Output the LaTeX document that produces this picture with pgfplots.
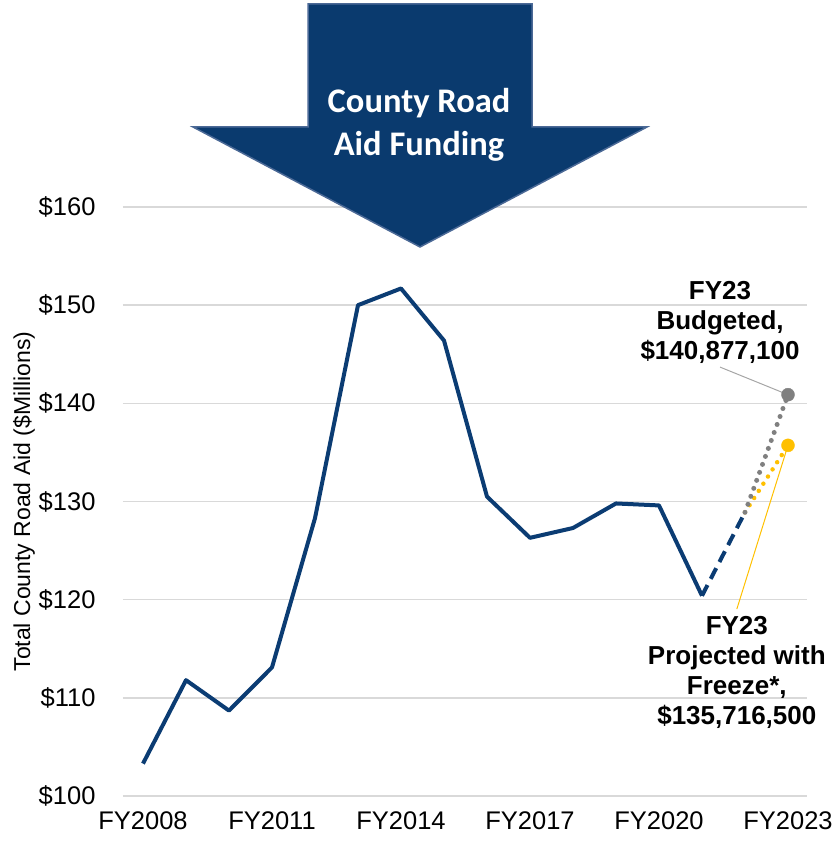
\documentclass[border=0pt]{standalone}
\usepackage{pgfplots}
\pgfplotsset{compat=1.18}
\usepackage{fontspec}
\setmainfont{Liberation Sans}
\newfontfamily\calibri{Carlito}
\definecolor{navy}{RGB}{11,60,115}
\definecolor{arrowfill}{RGB}{10,58,110}
\definecolor{arrowedge}{RGB}{75,105,150}
\definecolor{gridgray}{RGB}{217,217,217}
\definecolor{dotgray}{RGB}{128,128,128}
\definecolor{leadgray}{RGB}{166,166,166}
\definecolor{gold}{RGB}{255,192,0}
\begin{document}
\begin{tikzpicture}
\path[use as bounding box] (-123pt,-45pt) rectangle (711pt,796pt);
\begin{axis}[
  at={(0,0)}, anchor=south west,
  scale only axis, width=684pt, height=589pt,
  xmin=2007.535, xmax=2023.442, ymin=100, ymax=160,
  axis line style={draw=none},
  major tick length=0pt,
  xtick={2008,2011,2014,2017,2020,2023},
  xticklabels={FY2008,FY2011,FY2014,FY2017,FY2020,FY2023},
  ytick={100,110,120,130,140,150,160},
  yticklabels={\$100,\$110,\$120,\$130,\$140,\$150,\$160},
  ymajorgrids, grid style={gridgray, line width=1.5pt},
  tick label style={font=\fontsize{25.5}{30}\selectfont},
  xticklabel style={yshift=-12pt},
  yticklabel style={xshift=-24pt},
  clip=false,
  ylabel={Total County Road Aid (\$Millions)},
  ylabel style={at={(axis description cs:-0.1447,0.5)}, anchor=center, font=\fontsize{23}{28}\selectfont},
]
\addplot[navy, line width=4pt, line join=round] coordinates {
  (2008,103.3) (2009,111.8) (2010,108.7) (2011,113.1) (2012,128.3)
  (2013,150.0) (2014,151.7) (2015,146.4) (2016,130.5) (2017,126.3)
  (2018,127.3) (2019,129.8) (2020,129.6) (2021,120.4)};
\addplot[navy, line width=4pt, dash pattern=on 12pt off 7pt] coordinates {(2021,120.4) (2022,128.9)};
\addplot[gold, line width=4.5pt, line cap=round, dash pattern=on 0pt off 8.5pt] coordinates {(2022,128.9) (2023,135.72)};
\addplot[dotgray, line width=5pt, line cap=round, dash pattern=on 0pt off 8.5pt] coordinates {(2022,128.9) (2023,140.88)};
\draw[leadgray, line width=1pt] (axis cs:2021.42,143.69) -- (axis cs:2023,140.88);
\draw[gold, line width=1pt] (axis cs:2023,135.72) -- (axis cs:2021.81,119.04);
\addplot[only marks, mark=*, mark size=6.5pt, color=gold, mark options={fill=gold, draw=gold}] coordinates {(2023,135.72)};
\addplot[only marks, mark=*, mark size=6.5pt, color=dotgray, mark options={fill=dotgray, draw=dotgray}] coordinates {(2023,140.88)};
\node[font=\bfseries\fontsize{26}{30}\selectfont, align=center] at (axis cs:2021.42,148.27) {FY23\\Budgeted,\\\$140,877,100};
\node[font=\bfseries\fontsize{26}{30}\selectfont, align=center] at (axis cs:2021.81,112.58) {FY23\\Projected with\\Freeze*,\\\$135,716,500};
\end{axis}
\draw[fill=arrowfill, draw=arrowedge, line width=1.5pt, line join=miter]
  (185pt,792pt) -- (409pt,792pt) -- (409pt,669pt) -- (524pt,669pt) -- (297pt,549pt) -- (70pt,669pt) -- (185pt,669pt) -- cycle;
\node[white, font=\calibri\bfseries\fontsize{34.5}{43}\selectfont, align=center] at (296pt,671.5pt) {County Road\\Aid Funding};
\end{tikzpicture}
\end{document}
